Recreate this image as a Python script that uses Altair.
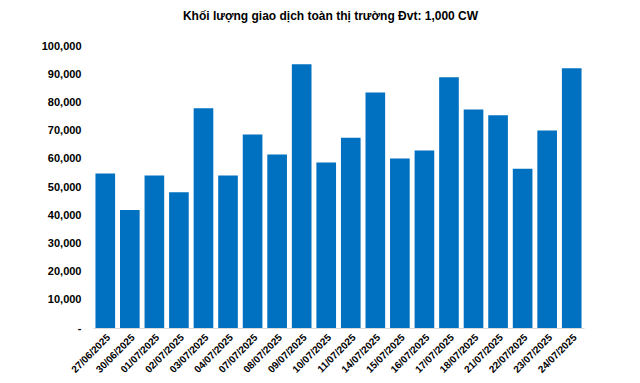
import altair as alt
import pandas as pd

dates = ["27/06/2025", "30/06/2025", "01/07/2025", "02/07/2025", "03/07/2025",
         "04/07/2025", "07/07/2025", "08/07/2025", "09/07/2025", "10/07/2025",
         "11/07/2025", "14/07/2025", "15/07/2025", "16/07/2025", "17/07/2025",
         "18/07/2025", "21/07/2025", "22/07/2025", "23/07/2025", "24/07/2025"]
volumes = [54800, 41800, 54100, 48100, 77900,
           54100, 68600, 61500, 93500, 58700,
           67500, 83500, 60100, 62900, 88900,
           77500, 75400, 56500, 70000, 92100]

df = pd.DataFrame({"date": dates, "volume": volumes})

chart = alt.Chart(df).mark_bar(color="#0070C0").encode(
    x=alt.X("date:N", sort=dates, title=None,
            scale=alt.Scale(paddingInner=0.2, paddingOuter=0.1),
            axis=alt.Axis(labelAngle=-45, labelFont="Liberation Sans", labelFontSize=10,
                          labelFontWeight="bold", labelColor="#000000",
                          domainColor="#D9D9D9", ticks=False, labelPadding=4)),
    y=alt.Y("volume:Q", title=None,
            scale=alt.Scale(domain=[0, 100000], nice=False),
            axis=alt.Axis(values=list(range(0, 100001, 10000)), grid=False, domain=False,
                          ticks=False, labelPadding=12, labelFont="Liberation Sans",
                          labelFontSize=11, labelFontWeight="bold", labelColor="#000000",
                          labelExpr="datum.value == 0 ? '-' : format(datum.value, ',')")),
).properties(
    width=491,
    height=282,
    title=alt.TitleParams("Khối lượng giao dịch toàn thị trường Đvt: 1,000 CW",
                          font="Liberation Sans", fontSize=12, fontWeight="bold",
                          color="#000000", offset=17, dx=-8),
    autosize=alt.AutoSizeParams(type="none"),
    padding={"left": 85, "top": 38, "right": 40, "bottom": 48},
).configure_view(stroke=None)

chart.save("out.html", embed_options={"renderer": "svg", "actions": False})
